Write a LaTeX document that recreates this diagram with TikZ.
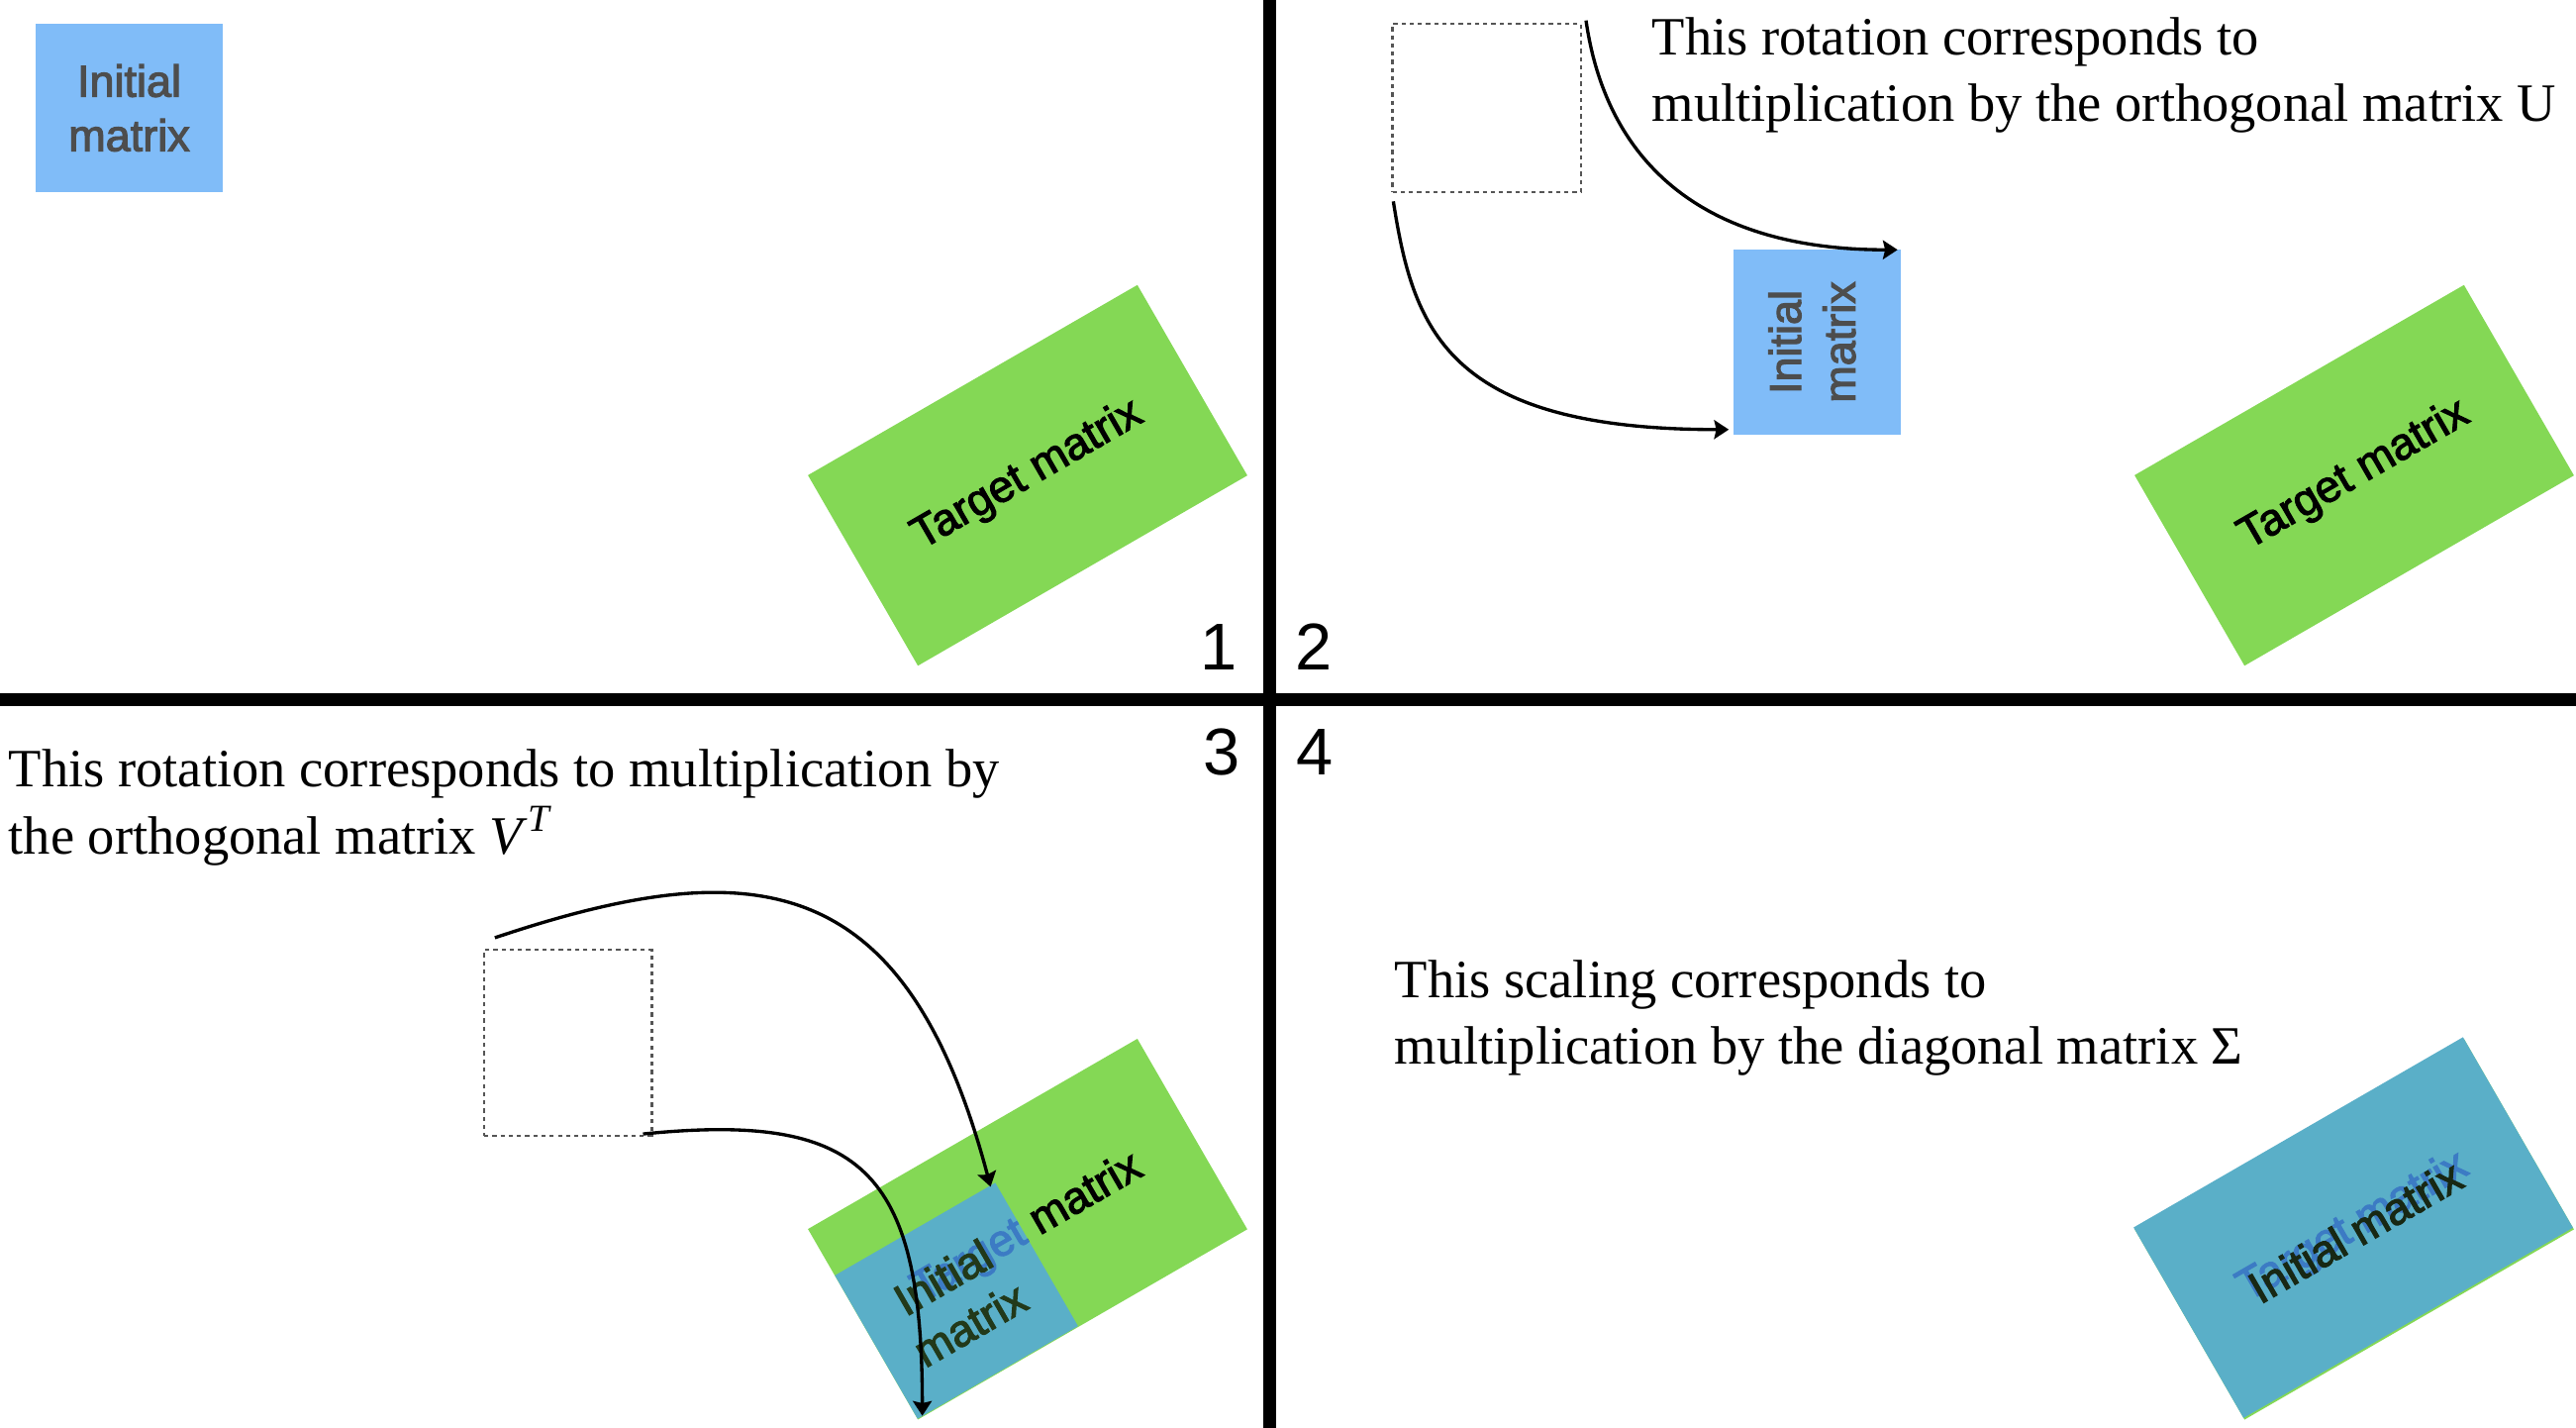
\documentclass[tikz,border=0pt]{standalone}
\usepackage{fontspec}
\setmainfont{Liberation Serif}
\newfontfamily\hv{Liberation Sans}
\newfontfamily\hvh[FakeBold=2.5]{Liberation Sans}
\usetikzlibrary{arrows.meta,calc}
\definecolor{initblue}{HTML}{80BCF8}
\definecolor{tgtgreen}{HTML}{84D855}
\definecolor{tealmix}{HTML}{5AAFC8}
\definecolor{txtgray}{HTML}{4D4D4D}
\definecolor{bluetxt}{HTML}{3C7BC4}
\definecolor{initdark}{HTML}{22391A}
\definecolor{initblack}{HTML}{182814}
\definecolor{dotgray}{HTML}{555555}
\tikzset{
  boxfont/.style={font=\hvh\fontsize{12.8}{15.6}\selectfont},
  initbox/.style={fill=initblue, inner sep=0pt, minimum width=1.88cm, minimum height=1.69cm, boxfont, text=txtgray, align=center},
  initboxr/.style={fill=initblue, inner sep=0pt, minimum width=1.69cm, minimum height=1.87cm, boxfont, text=txtgray},
  tgtbox/.style={fill=tgtgreen, inner sep=0pt, minimum width=3.84cm, minimum height=2.22cm, rotate=30, boxfont, text=black},
  tealbox/.style={fill=tealmix, inner sep=0pt, rotate=30},
  rottext/.style={rotate=30, boxfont, inner sep=0pt, align=center},
  dotbox/.style={draw=dotgray, line width=0.72pt, dash pattern=on 1.2pt off 1.15pt, inner sep=0pt},
  num/.style={font=\hv\fontsize{19}{19}\selectfont, anchor=base, inner sep=0pt},
  note/.style={font=\fontsize{15.5}{19.3}\selectfont, anchor=base west, inner sep=0pt},
  arr/.style={-{Stealth[length=4.2pt,width=5.4pt,inset=0.6pt]}, line width=0.95pt},
  divider/.style={line width=3.7pt}
}
\begin{document}
\begin{tikzpicture}[x=0.01cm, y=-0.01cm]
\useasboundingbox (0,0) rectangle (2602,1442);

% ---------- Quadrant 1 ----------
\node[initbox] (i1) at (130.5,109) {Initial\\matrix};
\node[tgtbox] (t1) at (1038,480) {Target matrix};
\node[num] (n1) at (1230.7,676) {1};

% ---------- Quadrant 2 ----------
\node[dotbox, minimum width=1.90cm, minimum height=1.70cm] (d2) at (1501.7,109) {};
\node[initboxr] (b2) at (1835.5,345.5) {\rotatebox{90}{\begin{tabular}{@{}c@{}}Initial\\matrix\end{tabular}}};
\node[tgtbox] (t2) at (2378,480) {Target matrix};
\node[note] (x2) at (1668,55) {\begin{tabular}[t]{@{}l@{}}This rotation corresponds to\\multiplication by the orthogonal matrix U\end{tabular}};
\node[num] (n2) at (1327,676) {2};
\coordinate (a1s) at ($(d2.north east)+(4,-2)$);
\coordinate (a1e) at ($(b2.north east)+(-4,1)$);
\coordinate (a2s) at ($(d2.south west)+(2,8)$);
\coordinate (a2e) at ($(b2.south west)+(-4,-6)$);
\draw[arr] (a1s) .. controls +(20,139) and +(-202,0) .. (a1e);
\draw[arr] (a2s) .. controls +(20,127) and +(-287,0) .. (a2e);

% ---------- Quadrant 3 ----------
\node[note] (x3) at (8,794) {\begin{tabular}[t]{@{}l@{}}This rotation corresponds to multiplication by\\the orthogonal matrix \textit{V}\raisebox{0.42em}{\fontsize{11}{11}\selectfont\itshape T}\end{tabular}};
\node[num] (n3) at (1234,782) {3};
\node[tgtbox] (t3) at (1038,1241.2) {};
\node[rottext, text=black] (t3t) at (t3.center) {Target matrix};
\node[tealbox, minimum width=1.87cm, minimum height=1.67cm] (b3) at (966.1,1313.5) {};
\begin{scope}
  \clip (b3.north west) -- (b3.north east) -- (b3.south east) -- (b3.south west) -- cycle;
  \node[rottext, text=bluetxt] (t3b) at (t3.center) {Target matrix};
\end{scope}
\node[rottext, text=initdark] (i3t) at (b3.center) {Initial\\matrix};
\node[dotbox, minimum width=1.69cm, minimum height=1.875cm] (d3) at (573.7,1053) {};
\coordinate (a3s) at ($(d3.north west)+(12,-11)$);
\coordinate (a3e) at ($(b3.north east)+(-5,5)$);
\coordinate (a4s) at ($(d3.south east)+(-10,-3)$);
\coordinate (a4e) at ($(b3.south west)+(5,-4)$);
\draw[arr] (a3s) .. controls +(265,-89) and +(-85,-319) .. (a3e);
\draw[arr] (a4s) .. controls +(220,-22) and +(0,-250) .. (a4e);

% ---------- Quadrant 4 ----------
\node[num] (n4) at (1327.7,782) {4};
\node[note] (x4) at (1408,1007) {\begin{tabular}[t]{@{}l@{}}This scaling corresponds to\\multiplication by the diagonal matrix Σ\end{tabular}};
\node[tgtbox] (t4) at (2378,1241.3) {};
\node[tealbox, minimum width=3.84cm, minimum height=2.22cm] (b4) at (2377,1239.6) {};
\node[rottext, text=bluetxt] (t4t) at (b4.center) {Target matrix};
\node[rottext, text=initblack] (i4t) at ($(b4.center)+(2,4)$) {Initial matrix};

% ---------- dividers ----------
\draw[divider] (1282.3,0) -- (1282.3,1442);
\draw[divider] (0,706) -- (2602,706);
\end{tikzpicture}
\end{document}
